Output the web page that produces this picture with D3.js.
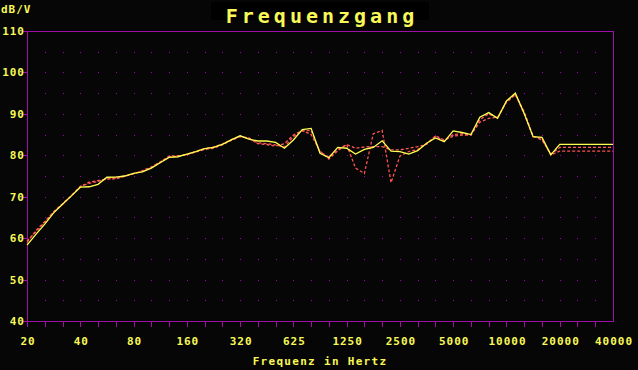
<!DOCTYPE html>
<html><head><meta charset="utf-8">
<script src="https://cdn.jsdelivr.net/npm/d3@7"></script>
<style>
html,body{margin:0;padding:0;background:#060606;}
svg{display:block;}
text{font-family:"DejaVu Sans Mono",monospace;font-weight:bold;fill:#f8f858;}
</style></head>
<body>
<svg id="c" width="638" height="370"></svg>
<script>
// 1/6-octave measurement frequencies (Hz)
const freqs = [20,22.45,25.2,28.28,31.75,35.64,40,44.9,50.4,56.57,63.5,71.27,80,89.8,100.8,113.1,127,142.5,160,179.6,201.6,226.3,254,285.1,320,359.2,403.2,452.5,508,570.2,640,718.4,806.3,905.1,1016,1140,1280,1437,1613,1810,2032,2281,2560,2874,3225,3620,4064,4561,5120,5747,6451,7241,8127,9123,10240,11494,12902,14482,16255,18246,20480,40960];
// yellow solid curve (dB/V)
const seriesYellow = [58.3,60.9,63.4,66.1,68.2,70.2,72.3,72.4,73.0,74.7,74.75,75.0,75.65,76.0,76.9,78.2,79.5,79.65,80.3,80.9,81.6,81.9,82.65,83.7,84.7,83.9,83.45,83.45,83.1,81.7,83.7,86.2,86.5,80.5,79.4,81.9,81.7,80.3,81.4,81.9,83.5,81.0,80.9,80.3,81.1,82.9,84.2,83.3,85.9,85.5,85.0,89.2,90.3,88.9,93.1,95.0,90.1,84.5,84.3,80.1,82.65,82.65];
// red dashed curve A (close to yellow)
const seriesRedA = [59.0,61.8,64.0,66.4,68.3,70.3,72.4,73.5,73.9,74.3,74.3,74.9,75.5,76.3,77.2,78.3,79.8,79.9,80.1,80.8,81.4,81.7,82.5,83.6,84.5,84.2,82.8,82.6,82.2,82.8,84.9,86.0,85.0,81.0,79.1,81.1,82.6,81.7,82.0,82.1,82.1,81.3,81.3,81.7,82.1,82.6,84.7,83.7,84.6,84.9,84.9,88.0,88.9,89.2,92.8,94.6,90.5,84.6,83.7,80.3,81.9,81.9];
// red dashed curve B (diverging around 1.6-2.5 kHz)
const seriesRedB = [59.3,61.5,63.8,66.2,68.2,70.2,72.5,73.2,73.7,74.3,74.5,75.0,75.6,76.1,77.0,78.4,79.6,79.8,80.2,80.9,81.6,82.0,82.7,83.8,84.6,84.0,83.0,82.8,82.5,82.0,84.5,85.9,86.0,80.8,79.6,81.4,82.6,76.9,75.6,85.2,86.0,73.4,79.8,80.9,81.4,82.8,84.5,83.5,85.0,85.2,85.0,88.6,90.0,89.0,93.0,94.8,90.0,84.5,84.0,80.1,81.0,81.0];
// axis tick labels
const xTickValues = [20,40,80,160,320,640,1280,2560,5120,10240,20480,40960];
const xTickLabels = ["20","40","80","160","320","625","1250","2500","5000","10000","20000","40000"];
const yTickValues = [40,50,60,70,80,90,100,110];
const yGridValues = [45,50,55,60,65,70,75,80,85,90,95,100,105];
const thirdOctaves = [20,25.2,31.75,40,50.4,63.5,80,100.8,127,160,201.6,254,320,403.2,508,640,806.3,1016,1280,1613,2032,2560,3225,4064,5120,6451,8127,10240,12902,16255,20480,25803,32510,40960];

const svg = d3.select("#c");
const L = 27, R = 613, T = 31, B = 321;
const x = d3.scaleLog().domain([20, 40960]).range([L, R]);
const y = d3.scaleLinear().domain([40, 110]).range([B, T]);
const axisCol = "#a010a8";
const px = v => Math.round(v) + 0.5;

// title box
svg.append("rect").attr("x", 211).attr("y", 2).attr("width", 218).attr("height", 18).attr("fill", "#000");
svg.append("text").attr("x", 322).attr("y", 23).attr("text-anchor", "middle")
  .style("font-size", "20px").style("letter-spacing", "4px").text("Frequenzgang");
svg.append("text").attr("x", 1).attr("y", 13).style("font-size", "11px").style("letter-spacing", "1px").text("dB/V");

// grid dots
const dots = [];
thirdOctaves.slice(1, -1).forEach(f => yGridValues.forEach(v => dots.push([f, v])));
svg.append("g").selectAll("rect").data(dots).join("rect")
  .attr("x", d => Math.round(x(d[0]))).attr("y", d => Math.round(y(d[1])))
  .attr("width", 1).attr("height", 1).attr("fill", "#a000a8");

// frame
const g = svg.append("g").attr("shape-rendering", "crispEdges").attr("stroke", axisCol).attr("fill", "none");
g.append("line").attr("x1", px(L)).attr("x2", px(L)).attr("y1", T).attr("y2", B + 5);
g.append("line").attr("x1", px(R)).attr("x2", px(R)).attr("y1", T).attr("y2", B);
g.append("line").attr("x1", L - 4).attr("x2", R + 1).attr("y1", px(T)).attr("y2", px(T));
g.append("line").attr("x1", L - 4).attr("x2", R + 1).attr("y1", px(B)).attr("y2", px(B));
// x ticks (1/3 octave)
g.selectAll(".xt").data(thirdOctaves.slice(0, -1)).join("line")
  .attr("x1", d => px(x(d))).attr("x2", d => px(x(d))).attr("y1", B).attr("y2", B + 6);
// y ticks
g.selectAll(".yt").data(yTickValues).join("line")
  .attr("x1", L - 4).attr("x2", L).attr("y1", d => px(y(d))).attr("y2", d => px(y(d)));

// tick labels
svg.append("g").selectAll("text").data(xTickValues).join("text")
  .attr("x", d => x(d) + 1).attr("y", 345).attr("text-anchor", "middle")
  .style("font-size", "11px").style("letter-spacing", "1px")
  .text((d, i) => xTickLabels[i]);
svg.append("g").selectAll("text").data(yTickValues).join("text")
  .attr("x", 25).attr("y", d => y(d) + 4).attr("text-anchor", "end")
  .style("font-size", "11px").style("letter-spacing", "1px").text(d => d);
svg.append("text").attr("x", 320).attr("y", 365).attr("text-anchor", "middle")
  .style("font-size", "11px").style("letter-spacing", "1.3px").text("Frequenz in Hertz");

// curves
const line = d3.line().x((d, i) => x(freqs[i])).y(d => y(d));
svg.append("path").datum(seriesRedB).attr("d", line).attr("fill", "none")
  .attr("stroke", "#ff5050").attr("stroke-width", 1.3).attr("stroke-dasharray", "3,2");
svg.append("path").datum(seriesRedA).attr("d", line).attr("fill", "none")
  .attr("stroke", "#ff5a5a").attr("stroke-width", 1.3).attr("stroke-dasharray", "3,2");
svg.append("path").datum(seriesYellow).attr("d", line).attr("fill", "none")
  .attr("stroke", "#ffff50").attr("stroke-width", 1.3);
</script>
</body></html>
